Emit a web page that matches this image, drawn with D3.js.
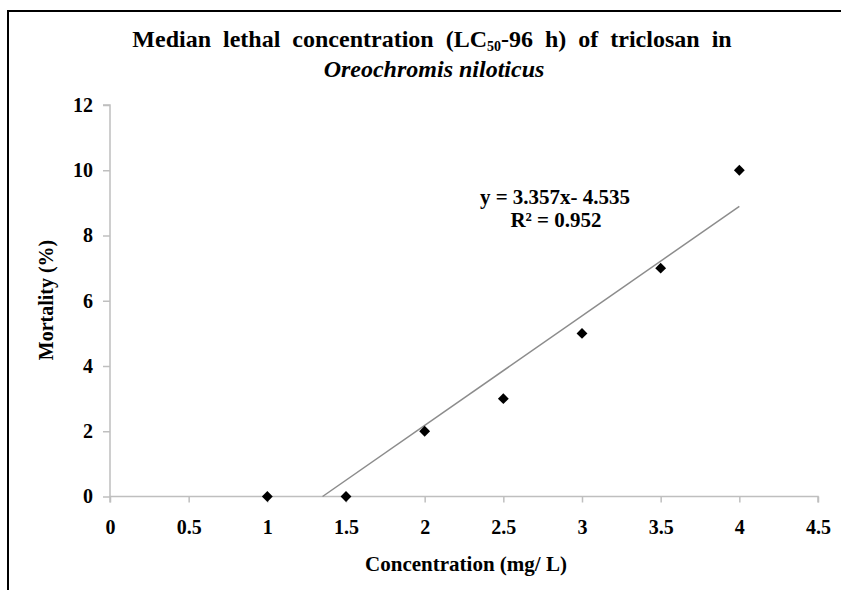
<!DOCTYPE html>
<html>
<head>
<meta charset="utf-8">
<script src="https://cdn.jsdelivr.net/npm/d3@7"></script>
<style>
  body { margin: 0; background: #ffffff; }
  text { font-family: "Liberation Serif", "Times New Roman", "DejaVu Serif", serif; font-weight: bold; fill: #000; }
</style>
</head>
<body>
<script>
// data
const concentration = [1, 1.5, 2, 2.5, 3, 3.5, 4];
const mortality = [0, 0, 2, 3, 5, 7, 10];
const xTicks = [0, 0.5, 1, 1.5, 2, 2.5, 3, 3.5, 4, 4.5];
const yTicks = [0, 2, 4, 6, 8, 10, 12];
const slope = 3.357;
const intercept = -4.535;
const rSquared = 0.952;

const width = 841;
const height = 590;
const serif = '"Liberation Serif", "Times New Roman", serif';

const svg = d3.select("body").append("svg").attr("width", width).attr("height", height).style("background", "#ffffff");

// frame (top and left edge of the original figure box)
svg.append("line").attr("x1", 7).attr("y1", 11).attr("x2", width).attr("y2", 11).attr("stroke", "#000").attr("stroke-width", 2);
svg.append("line").attr("x1", 8).attr("y1", 10).attr("x2", 8).attr("y2", height).attr("stroke", "#000").attr("stroke-width", 2);

const x = d3.scaleLinear().domain([0, 4.5]).range([110, 818]);
const y = d3.scaleLinear().domain([0, 12]).range([496.5, 105]);

// axes
const xAxis = svg.append("g").attr("transform", "translate(0," + y(0) + ")")
  .call(d3.axisBottom(x).tickValues(xTicks).tickSize(6).tickPadding(17).tickFormat(d3.format("")));
const yAxis = svg.append("g").attr("transform", "translate(" + x(0) + ",0)")
  .call(d3.axisLeft(y).tickValues(yTicks).tickSize(7).tickPadding(10));

[xAxis, yAxis].forEach(g => {
  g.attr("font-family", null).attr("font-size", null);
  g.select(".domain").attr("stroke", "#bfbfbf").attr("stroke-width", 1.5);
  g.selectAll(".tick line").attr("stroke", "#bfbfbf").attr("stroke-width", 1.5);
  g.selectAll(".tick text").style("font-family", serif).style("font-weight", "bold").style("font-size", "20px").attr("fill", "#000");
});
yAxis.select(".domain").attr("d", "M-7," + y(12) + "H0V" + y(0));
xAxis.select(".domain").attr("d", "M" + x(0) + ",6V0H" + x(4.5) + "V6");

// trendline
const x0 = -intercept / slope;
const trend = [[x0, 0], [4, slope * 4 + intercept]];
svg.append("path").datum(trend)
  .attr("d", d3.line().x(d => x(d[0])).y(d => y(d[1])))
  .attr("stroke", "#8c8c8c").attr("stroke-width", 1.5).attr("fill", "none");

// points
svg.append("g").selectAll("path").data(concentration).enter().append("path")
  .attr("transform", (d, i) => "translate(" + x(d) + "," + y(mortality[i]) + ")")
  .attr("d", d3.symbol().type(d3.symbolDiamond2).size(75))
  .attr("fill", "#000");

// title
const title = svg.append("text").attr("x", 432).attr("y", 47).attr("text-anchor", "middle").style("font-size", "24px").style("word-spacing", "6px");
title.append("tspan").text("Median lethal concentration (LC");
title.append("tspan").text("50").attr("dy", 4).style("font-size", "14px");
title.append("tspan").text("-96 h) of triclosan in").attr("dy", -4);
svg.append("text").attr("x", 434).attr("y", 77).attr("text-anchor", "middle").style("font-size", "24px").style("font-style", "italic")
  .text("Oreochromis niloticus");

// axis titles
svg.append("text").attr("x", 466).attr("y", 571).attr("text-anchor", "middle").style("font-size", "21px").text("Concentration (mg/ L)");
svg.append("text").attr("transform", "translate(53,300) rotate(-90)").attr("text-anchor", "middle").style("font-size", "20px").text("Mortality (%)");

// equation label
svg.append("text").attr("x", 555).attr("y", 204).attr("text-anchor", "middle").style("font-size", "21px")
  .text("y = " + slope + "x- " + Math.abs(intercept));
svg.append("text").attr("x", 556).attr("y", 227).attr("text-anchor", "middle").style("font-size", "21px")
  .text("R² = " + rSquared);
</script>
</body>
</html>
